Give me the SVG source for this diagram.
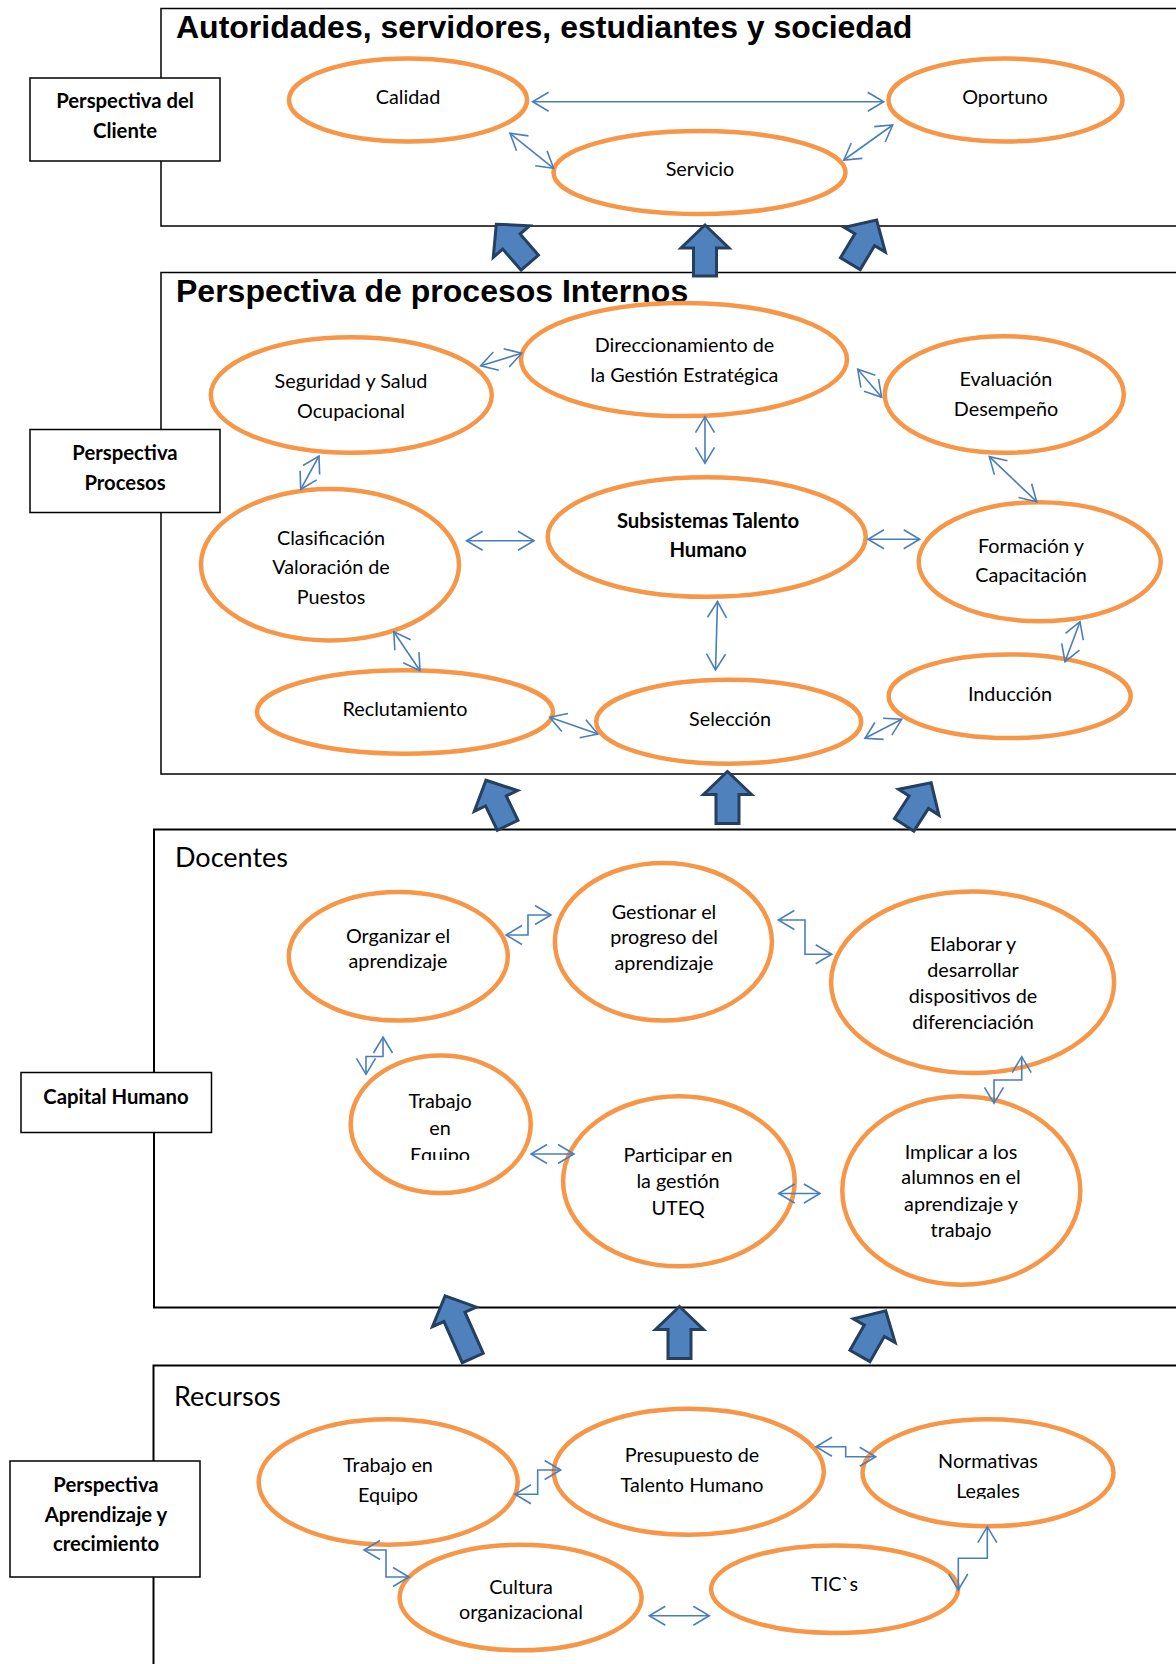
<svg xmlns="http://www.w3.org/2000/svg" width="1176" height="1664" viewBox="0 0 1176 1664">
<style>
.sec{fill:none;stroke:#000;stroke-width:1.5}
.sec2{fill:none;stroke:#000;stroke-width:2}
.box{fill:#fff;stroke:#000;stroke-width:1.5}
.el{fill:#fff;stroke:#F79646;stroke-width:4.5}
.t{font-family:Lato,"Open Sans",sans-serif;font-size:19.8px;fill:#000;text-anchor:middle}
.tb{font-family:Lato,"Open Sans",sans-serif;font-size:20.3px;font-weight:bold;fill:#000;text-anchor:middle}
.h1{font-family:"Liberation Sans",Arial,sans-serif;font-size:32px;font-weight:bold;fill:#000}
.h2{font-family:Lato,"Open Sans",sans-serif;font-size:27px;fill:#000}
.cn{fill:none;stroke:#4A7EBB;stroke-width:1.6;marker-start:url(#ah);marker-end:url(#ah)}
.blk{fill:#4F81BD;stroke:#243F60;stroke-width:3;stroke-linejoin:miter}
</style>
<defs>
<marker id="ah" viewBox="-18 -11 20 22" refX="0" refY="0" markerWidth="20" markerHeight="22" markerUnits="userSpaceOnUse" orient="auto-start-reverse">
<path d="M-16,-9.5 L0,0 L-16,9.5" fill="none" stroke="#4A7EBB" stroke-width="1.6"/>
</marker>
<clipPath id="clipEq"><rect x="340" y="1100" width="200" height="60"/></clipPath>
<clipPath id="clipLeg"><rect x="900" y="1440" width="200" height="59"/></clipPath>
</defs>

<g id="sections">
<rect class="sec" x="161" y="8.5" width="1100" height="217.5"/>
<rect class="sec" x="161" y="272.5" width="1100" height="501.5"/>
<rect class="sec2" x="154" y="829.5" width="1100" height="478"/>
<rect class="sec2" x="153.5" y="1365.5" width="1100" height="400"/>
</g>

<g id="titles">
<text class="h1" x="176" y="38.3">Autoridades, servidores, estudiantes y sociedad</text>
<text class="h1" x="176" y="302.3">Perspectiva de procesos Internos</text>
<text class="h2" x="175" y="867.3">Docentes</text>
<text class="h2" x="174" y="1405.7">Recursos</text>
</g>

<g id="box-cliente">
<rect class="box" x="30" y="78" width="190" height="83"/>
<text class="tb" x="125" y="108">Perspectiva del</text>
<text class="tb" x="125" y="138">Cliente</text>
</g>
<g id="box-procesos">
<rect class="box" x="30" y="429.5" width="190" height="83"/>
<text class="tb" x="125" y="460">Perspectiva</text>
<text class="tb" x="125" y="490">Procesos</text>
</g>
<g id="box-capital">
<rect class="box" x="21" y="1072.5" width="190.5" height="60"/>
<text class="tb" x="116" y="1103.5">Capital Humano</text>
</g>
<g id="box-aprendizaje">
<rect class="box" x="10" y="1461" width="190" height="116"/>
<text class="tb" x="106" y="1492">Perspectiva</text>
<text class="tb" x="106" y="1522">Aprendizaje y</text>
<text class="tb" x="106" y="1550.5">crecimiento</text>
</g>

<g id="block-arrows">
<path class="blk" transform="translate(496.3,224.2) rotate(-41)" d="M0,0 L24,23 L11.5,23 L11.5,51 L-11.5,51 L-11.5,23 L-24,23 Z"/>
<path class="blk" transform="translate(705,225)" d="M0,0 L24,23 L11.5,23 L11.5,51 L-11.5,51 L-11.5,23 L-24,23 Z"/>
<path class="blk" transform="translate(876.6,220) rotate(31)" d="M0,0 L24,23 L11.5,23 L11.5,51 L-11.5,51 L-11.5,23 L-24,23 Z"/>
<path class="blk" transform="translate(486,780.2) rotate(-25.6)" d="M0,0 L24,23 L11.5,23 L11.5,50 L-11.5,50 L-11.5,23 L-24,23 Z"/>
<path class="blk" transform="translate(727.5,771.5)" d="M0,0 L24,23 L11.5,23 L11.5,52 L-11.5,52 L-11.5,23 L-24,23 Z"/>
<path class="blk" transform="translate(931.2,782.8) rotate(32.7)" d="M0,0 L24,23 L11.5,23 L11.5,50 L-11.5,50 L-11.5,23 L-24,23 Z"/>
<path class="blk" transform="translate(445.1,1295.9) rotate(-24)" d="M0,0 L24,23 L11.5,23 L11.5,68 L-11.5,68 L-11.5,23 L-24,23 Z"/>
<path class="blk" transform="translate(679.5,1306.5)" d="M0,0 L24,23 L11.5,23 L11.5,52 L-11.5,52 L-11.5,23 L-24,23 Z"/>
<path class="blk" transform="translate(885.7,1310.8) rotate(29.7)" d="M0,0 L24,23 L11.5,23 L11.5,52 L-11.5,52 L-11.5,23 L-24,23 Z"/>
</g>

<g id="n-calidad"><ellipse class="el" cx="408" cy="100" rx="119" ry="41.5"/><text class="t" x="408" y="104">Calidad</text></g>
<g id="n-oportuno"><ellipse class="el" cx="1005.5" cy="100" rx="117" ry="41.5"/><text class="t" x="1005" y="104">Oportuno</text></g>
<g id="n-servicio"><ellipse class="el" cx="699.5" cy="172.5" rx="146" ry="41.5"/><text class="t" x="700" y="176">Servicio</text></g>

<g id="n-seguridad"><ellipse class="el" cx="351.3" cy="395" rx="140.5" ry="57.8"/><text class="t" x="351" y="388.3">Seguridad y Salud</text><text class="t" x="351" y="418.3">Ocupacional</text></g>
<g id="n-direccionamiento"><ellipse class="el" cx="684" cy="359.5" rx="163" ry="56.6"/><text class="t" x="684.5" y="351.7">Direccionamiento de</text><text class="t" x="684.5" y="381.7">la Gestión Estratégica</text></g>
<g id="n-evaluacion"><ellipse class="el" cx="1004.3" cy="394.5" rx="119.5" ry="58.3"/><text class="t" x="1006" y="386">Evaluación</text><text class="t" x="1006" y="415.5">Desempeño</text></g>
<g id="n-subsistemas"><ellipse class="el" cx="706.7" cy="537" rx="159" ry="59.8"/><text class="tb" x="708" y="528.3">Subsistemas Talento</text><text class="tb" x="708" y="557.3">Humano</text></g>
<g id="n-clasificacion"><ellipse class="el" cx="330" cy="564.7" rx="129" ry="75.8"/><text class="t" x="331" y="545">Clasificación</text><text class="t" x="331" y="574.3">Valoración de</text><text class="t" x="331" y="604">Puestos</text></g>
<g id="n-formacion"><ellipse class="el" cx="1039.7" cy="561.7" rx="121" ry="59.5"/><text class="t" x="1031" y="553.3">Formación y</text><text class="t" x="1031" y="581.5">Capacitación</text></g>
<g id="n-reclutamiento"><ellipse class="el" cx="405" cy="712" rx="148" ry="41.7"/><text class="t" x="405" y="715.7">Reclutamiento</text></g>
<g id="n-seleccion"><ellipse class="el" cx="728.7" cy="721.7" rx="132.5" ry="42"/><text class="t" x="730" y="725.7">Selección</text></g>
<g id="n-induccion"><ellipse class="el" cx="1009.7" cy="696.2" rx="121" ry="41.8"/><text class="t" x="1010" y="701">Inducción</text></g>

<g id="n-organizar"><ellipse class="el" cx="398.3" cy="956.3" rx="109.5" ry="64.3"/><text class="t" x="398" y="943.3">Organizar el</text><text class="t" x="398" y="967.5">aprendizaje</text></g>
<g id="n-gestionar"><ellipse class="el" cx="663.4" cy="941.8" rx="108.5" ry="78.8"/><text class="t" x="664" y="918.5">Gestionar el</text><text class="t" x="664" y="944">progreso del</text><text class="t" x="664" y="969.5">aprendizaje</text></g>
<g id="n-elaborar"><ellipse class="el" cx="972.6" cy="982.2" rx="141.5" ry="90.8"/><text class="t" x="973" y="950.7">Elaborar y</text><text class="t" x="973" y="977">desarrollar</text><text class="t" x="973" y="1002.5">dispositivos de</text><text class="t" x="973" y="1029">diferenciación</text></g>
<g id="n-trabajo"><ellipse class="el" cx="440.7" cy="1124.2" rx="90" ry="68.8"/><text class="t" x="440" y="1108.3">Trabajo</text><text class="t" x="440" y="1135">en</text><text class="t" x="440" y="1162" clip-path="url(#clipEq)">Equipo</text></g>
<g id="n-participar"><ellipse class="el" cx="678.9" cy="1181.3" rx="115.8" ry="85"/><text class="t" x="678" y="1161.7">Participar en</text><text class="t" x="678" y="1188.3">la gestión</text><text class="t" x="678" y="1215">UTEQ</text></g>
<g id="n-implicar"><ellipse class="el" cx="961.3" cy="1190.5" rx="119" ry="94.2"/><text class="t" x="961" y="1159">Implicar a los</text><text class="t" x="961" y="1184">alumnos en el</text><text class="t" x="961" y="1210.7">aprendizaje y</text><text class="t" x="961" y="1237">trabajo</text></g>

<g id="n-trabajo-equipo"><ellipse class="el" cx="388.2" cy="1482" rx="129.5" ry="62.7"/><text class="t" x="388" y="1471.7">Trabajo en</text><text class="t" x="388" y="1501.7">Equipo</text></g>
<g id="n-presupuesto"><ellipse class="el" cx="688.8" cy="1471.7" rx="135" ry="63"/><text class="t" x="692" y="1461.7">Presupuesto de</text><text class="t" x="692" y="1491.7">Talento Humano</text></g>
<g id="n-normativas"><ellipse class="el" cx="988" cy="1472.8" rx="125.5" ry="53.5"/><text class="t" x="988" y="1468.3">Normativas</text><text class="t" x="988" y="1498" clip-path="url(#clipLeg)">Legales</text></g>
<g id="n-cultura"><ellipse class="el" cx="520.6" cy="1597.5" rx="121" ry="52.8"/><text class="t" x="521" y="1594">Cultura</text><text class="t" x="521" y="1618.5">organizacional</text></g>
<g id="n-tics"><ellipse class="el" cx="834.6" cy="1589.2" rx="123.5" ry="43.8"/><text class="t" x="834.5" y="1590.7">TIC`s</text></g>

<g id="connectors">
<path class="cn" d="M532.6,101.7 L883.7,101.7"/>
<path class="cn" d="M510,133.3 L553.6,168.3"/>
<path class="cn" d="M843.8,160 L892.7,125"/>
<path class="cn" d="M480.7,365.7 L521.7,353.3"/>
<path class="cn" d="M319,456 L300.7,489.3"/>
<path class="cn" d="M857.7,369.3 L881.7,397.3"/>
<path class="cn" d="M705,416.7 L705,463.3"/>
<path class="cn" d="M989.3,456.7 L1036.7,501.7"/>
<path class="cn" d="M466.6,540.7 L534,540.7"/>
<path class="cn" d="M868,539.3 L919.7,539.3"/>
<path class="cn" d="M717.5,601.5 L715.5,670"/>
<path class="cn" d="M393.8,631.7 L420,670.7"/>
<path class="cn" d="M1080,621.7 L1065,661.7"/>
<path class="cn" d="M549.8,717.3 L597.9,734"/>
<path class="cn" d="M865,738.3 L901.7,719.3"/>
<path class="cn" d="M506,935 L528,935 L528,915 L551,915"/>
<path class="cn" d="M778.3,920 L805,920 L805,954.3 L831.7,954.3"/>
<path class="cn" d="M383,1037 L383,1056.5 L366,1056.5 L366,1074.3"/>
<path class="cn" d="M1021.7,1056.7 L1021.7,1080 L994,1080 L994,1103.3"/>
<path class="cn" d="M531,1154 L574,1154"/>
<path class="cn" d="M778.7,1193.5 L820,1193.5"/>
<path class="cn" d="M515,1494.3 L537.7,1494.3 L537.7,1470 L560.7,1470"/>
<path class="cn" d="M816,1446.7 L845.7,1446.7 L845.7,1456.7 L875.7,1456.7"/>
<path class="cn" d="M364,1550 L386,1550 L386,1577 L409,1577"/>
<path class="cn" d="M649.3,1615.7 L709.3,1615.7"/>
<path class="cn" d="M958.3,1590 L958.3,1558.3 L987.3,1558.3 L987.3,1526.7"/>
</g>
</svg>
